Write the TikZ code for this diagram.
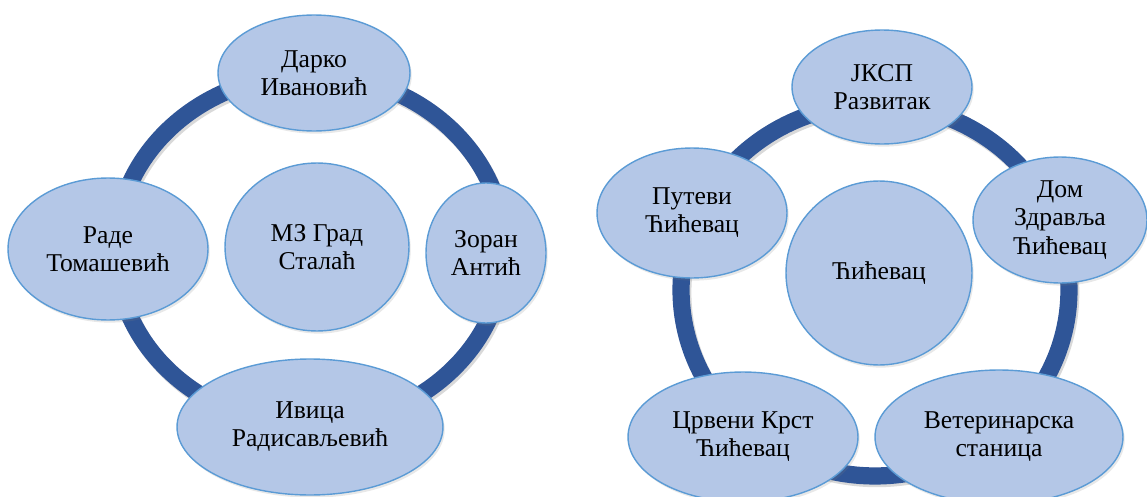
\documentclass[tikz,border=0pt]{standalone}
\usepackage{fontspec}
\setmainfont{Liberation Serif}
\usetikzlibrary{shapes.geometric,shadows}
\definecolor{bubfill}{HTML}{B4C7E7}
\definecolor{bubline}{HTML}{5B9BD5}
\definecolor{ringc}{HTML}{2F5597}
\begin{document}
\begin{tikzpicture}[x=0.02cm,y=-0.02cm,
  bub/.style={ellipse, draw=bubline, line width=0.8pt, fill=bubfill, inner sep=0pt, align=center,
    font=\fontsize{14.6}{16}\selectfont,
    drop shadow={opacity=0.18, shadow xshift=1pt, shadow yshift=-1.5pt}},
  ringline/.style={draw=ringc, line width=9.8pt},
  ringshadow/.style={draw=black, opacity=0.15, line width=9.8pt}]
\useasboundingbox (0,0) rectangle (1147,497);
% left ring
\draw[ringshadow] ([xshift=1pt,yshift=-1.5pt]310,250) ellipse [x radius=3.89cm, y radius=3.51cm];
\draw[ringline] (310,250) ellipse [x radius=3.89cm, y radius=3.51cm];
% right ring
\draw[ringshadow] ([xshift=1pt,yshift=-1.5pt]875,290) ellipse [x radius=3.88cm, y radius=3.72cm];
\draw[ringline] (875,290) ellipse [x radius=3.88cm, y radius=3.72cm];
% left nodes
\node[bub, minimum width=3.84cm, minimum height=2.32cm] (d1) at (314,73) {Дарко\\Ивановић};
\node[bub, minimum width=2.4cm, minimum height=2.8cm] (d2) at (486,253) {Зоран\\Антић};
\node[bub, minimum width=5.32cm, minimum height=2.72cm] (d3) at (310,427) {Ивица\\Радисављевић};
\node[bub, minimum width=4.0cm, minimum height=2.84cm] (d4) at (108,249) {Раде\\Томашевић};
\node[bub, minimum width=3.68cm, minimum height=3.36cm] (dc) at (317,247) {МЗ Град\\Сталаћ};
% right nodes
\node[bub, minimum width=3.6cm, minimum height=2.28cm] (r1) at (882,87) {ЈКСП\\Развитак};
\node[bub, minimum width=3.48cm, minimum height=2.52cm] (r2) at (1060,220) {Дом\\Здравља\\Ћићевац};
\node[bub, minimum width=4.96cm, minimum height=2.68cm] (r3) at (999,437) {Ветеринарска\\станица};
\node[bub, minimum width=4.6cm, minimum height=2.6cm] (r4) at (743,437) {Црвени Крст\\Ћићевац};
\node[bub, minimum width=3.8cm, minimum height=2.6cm] (r5) at (692,213) {Путеви\\Ћићевац};
\node[bub, minimum width=3.72cm, minimum height=3.68cm] (rc) at (879,273) {Ћићевац};
\end{tikzpicture}
\end{document}
